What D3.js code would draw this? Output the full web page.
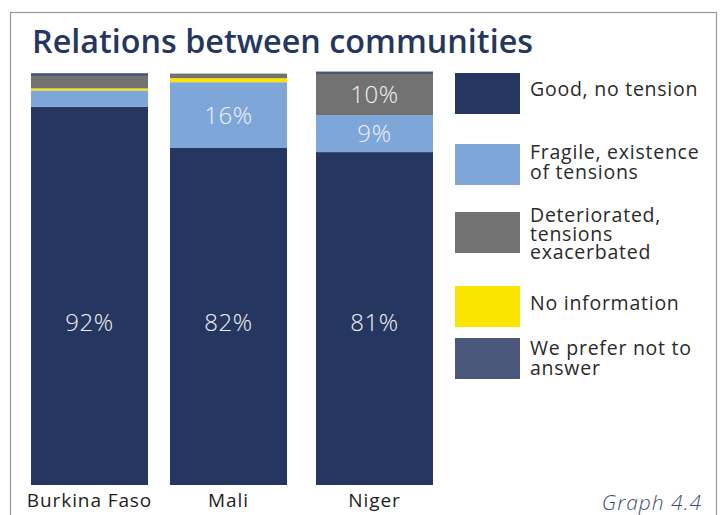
<!DOCTYPE html>
<html>
<head>
<meta charset="utf-8">
<script src="https://cdn.jsdelivr.net/npm/d3@7"></script>
<style>
  html, body { margin: 0; padding: 0; background: #fff; }
  svg { display: block; }
</style>
</head>
<body>
<svg id="chart" width="720" height="515"></svg>
<script>
// Survey answers, percentage of respondents per country
const countries = ["Burkina Faso", "Mali", "Niger"];
// stacking order, bottom to top
const categories = ["good", "fragile", "noinfo", "deteriorated", "prefer"];
// legend order
const legendKeys = ["good", "fragile", "deteriorated", "noinfo", "prefer"];
const legendLabels = [
  ["Good, no tension"],
  ["Fragile, existence", "of tensions"],
  ["Deteriorated,", "tensions", "exacerbated"],
  ["No information"],
  ["We prefer not to", "answer"]
];
const good         = [92, 82, 81];
const fragile      = [4, 16, 9];
const deteriorated = [3, 1.1, 10];
const noinfo       = [0.5, 1, 0];
const prefer       = [0.7, 0, 0.6];
// Values printed inside the bars (only segments large enough get a label)
const shownLabels = {
  good: [true, true, true],
  fragile: [false, true, true],
  deteriorated: [false, false, true]
};

const colors = {
  good: "#253760",
  fragile: "#7fa6d9",
  deteriorated: "#727272",
  noinfo: "#f9e500",
  prefer: "#4b577a"
};

const font = "'Open Sans', 'DejaVu Sans', sans-serif";
const svg = d3.select("#chart");

// Outer frame
svg.append("rect")
  .attr("x", 10.5).attr("y", 12.5)
  .attr("width", 706).attr("height", 520)
  .attr("fill", "none").attr("stroke", "#9a9a9a").attr("stroke-width", 1.2);

// Title
svg.append("text")
  .attr("x", 32).attr("y", 53)
  .attr("font-family", font).attr("font-weight", 600)
  .attr("font-size", 32).attr("fill", "#253760")
  .attr("textLength", 501).attr("lengthAdjust", "spacingAndGlyphs")
  .text("Relations between communities");

const rows = countries.map((c, i) => ({
  country: c,
  good: good[i], fragile: fragile[i], deteriorated: deteriorated[i],
  noinfo: noinfo[i], prefer: prefer[i]
}));

const series = d3.stack().keys(categories)(rows);

const y = d3.scaleLinear().domain([0, 100]).range([485, 74]);

// Bar positions along the baseline
const barX = d3.scaleOrdinal().domain(countries).range([31, 170, 316]);
const barW = 117;

const g = svg.append("g");
g.selectAll("g.series")
  .data(series)
  .join("g")
  .attr("class", "series")
  .attr("fill", d => colors[d.key])
  .selectAll("rect")
  .data(d => d.map(v => ({ key: d.key, v })))
  .join("rect")
  .attr("x", d => barX(d.v.data.country))
  .attr("width", barW)
  .attr("y", d => y(d.v[1]))
  .attr("height", d => Math.max(0, y(d.v[0]) - y(d.v[1])));

// Value labels
const labelData = [];
series.forEach(s => {
  if (!shownLabels[s.key]) return;
  s.forEach((v, i) => {
    if (!shownLabels[s.key][i]) return;
    const val = v[1] - v[0];
    // the large base segment keeps its label low in the bar
    const mid = s.key === "good" ? 39.5 : (v[0] + v[1]) / 2;
    labelData.push({ country: v.data.country, val, mid });
  });
});

g.selectAll("text.val")
  .data(labelData)
  .join("text")
  .attr("class", "val")
  .attr("x", d => barX(d.country) + barW / 2)
  .attr("y", d => y(d.mid))
  .attr("dy", "0.36em")
  .attr("text-anchor", "middle")
  .attr("font-family", font).attr("font-weight", 300)
  .attr("font-size", 24).attr("letter-spacing", 0.6).attr("fill", "#f2f2f2")
  .text(d => d3.format(".0f")(d.val) + "%");

// Country labels
g.selectAll("text.cat")
  .data(countries)
  .join("text")
  .attr("class", "cat")
  .attr("x", d => barX(d) + barW / 2)
  .attr("y", 507)
  .attr("text-anchor", "middle")
  .attr("font-family", font).attr("font-size", 19).attr("letter-spacing", 0.9)
  .attr("fill", "#1e1e1e")
  .text(d => d);

// Legend
const legendTop = [73, 144, 212, 286, 338];
const legendBase = [96, 159, 222, 310, 355];
const legendLine = [0, 20, 18.5, 0, 20];
const lg = svg.append("g");
legendKeys.forEach((k, i) => {
  lg.append("rect")
    .attr("x", 455).attr("y", legendTop[i])
    .attr("width", 65).attr("height", 41)
    .attr("fill", colors[k]);
  const t = lg.append("text")
    .attr("font-family", font).attr("font-size", 19.5).attr("letter-spacing", 0.75)
    .attr("fill", "#2a2a2a");
  legendLabels[i].forEach((line, j) => {
    t.append("tspan")
      .attr("x", 530)
      .attr("y", legendBase[i] + j * legendLine[i])
      .text(line);
  });
});

// Figure number
svg.append("text")
  .attr("x", 702).attr("y", 510)
  .attr("text-anchor", "end")
  .attr("font-family", font).attr("font-style", "italic").attr("font-weight", 300)
  .attr("font-size", 21).attr("letter-spacing", 1).attr("fill", "#3d4d73")
  .text("Graph 4.4");
</script>
</body>
</html>
